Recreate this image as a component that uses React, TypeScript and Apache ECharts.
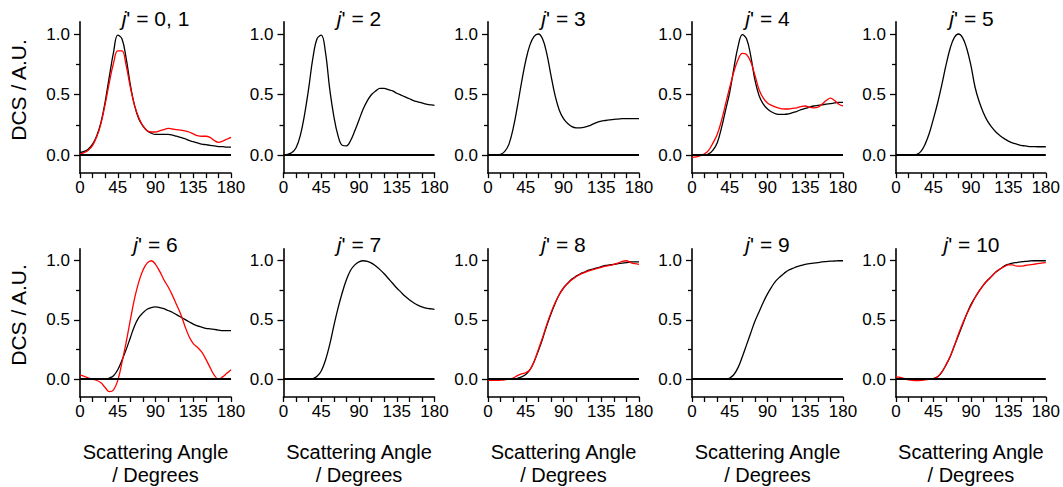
import React, { useEffect, useRef } from "react";
import * as echarts from "echarts";

const ANGLES = [0, 5, 10, 15, 20, 25, 30, 35, 40, 45, 50, 55, 60, 65, 70, 75, 80, 85, 90, 95, 100, 105, 110, 115, 120, 125, 130, 135, 140, 145, 150, 155, 160, 165, 170, 175, 180];

const TITLES = ["0, 1", "2", "3", "4", "5", "6", "7", "8", "9", "10"];
const X_TICKS = [0, 45, 90, 135, 180];
const Y_TICKS = [0, 0.5, 1.0];
const Y_MINOR = [0.25, 0.75];

// black curves (theory)
const black01 = [0.02, 0.03, 0.05, 0.09, 0.16, 0.27, 0.44, 0.65, 0.85, 0.99, 0.96, 0.8, 0.58, 0.41, 0.3, 0.24, 0.2, 0.18, 0.17, 0.17, 0.17, 0.17, 0.165, 0.155, 0.145, 0.135, 0.12, 0.11, 0.1, 0.09, 0.085, 0.08, 0.075, 0.07, 0.07, 0.065, 0.065];
const black2 = [0.0, 0.005, 0.02, 0.06, 0.16, 0.33, 0.55, 0.8, 0.96, 0.99, 0.85, 0.55, 0.32, 0.16, 0.08, 0.075, 0.12, 0.2, 0.29, 0.38, 0.45, 0.5, 0.53, 0.55, 0.55, 0.54, 0.53, 0.51, 0.495, 0.48, 0.465, 0.45, 0.44, 0.43, 0.42, 0.415, 0.41];
const black3 = [0, 0, 0, 0.005, 0.03, 0.09, 0.22, 0.4, 0.6, 0.78, 0.91, 0.98, 1.0, 0.96, 0.84, 0.66, 0.49, 0.37, 0.3, 0.26, 0.235, 0.225, 0.225, 0.23, 0.24, 0.255, 0.27, 0.28, 0.285, 0.29, 0.295, 0.297, 0.3, 0.3, 0.3, 0.3, 0.3];
const black4 = [0, 0, 0, 0, 0.01, 0.04, 0.1, 0.22, 0.37, 0.52, 0.72, 0.9, 0.995, 0.96, 0.82, 0.62, 0.49, 0.42, 0.38, 0.355, 0.34, 0.335, 0.335, 0.34, 0.35, 0.36, 0.375, 0.385, 0.395, 0.405, 0.41, 0.415, 0.42, 0.425, 0.43, 0.435, 0.435];
const black5 = [0, 0, 0, 0, 0, 0.005, 0.03, 0.09, 0.18, 0.3, 0.43, 0.58, 0.74, 0.88, 0.97, 1.0, 0.97, 0.88, 0.74, 0.56, 0.44, 0.35, 0.28, 0.23, 0.19, 0.16, 0.135, 0.115, 0.1, 0.09, 0.08, 0.075, 0.07, 0.07, 0.068, 0.068, 0.068];
const black6 = [0, 0, 0, 0, 0, 0, 0, 0.01, 0.03, 0.08, 0.16, 0.25, 0.35, 0.45, 0.52, 0.56, 0.59, 0.605, 0.61, 0.605, 0.595, 0.58, 0.565, 0.545, 0.525, 0.505, 0.485, 0.465, 0.45, 0.44, 0.43, 0.425, 0.42, 0.415, 0.41, 0.41, 0.41];
const black7 = [0, 0, 0, 0, 0, 0, 0, 0.005, 0.025, 0.07, 0.16, 0.29, 0.45, 0.6, 0.73, 0.84, 0.92, 0.965, 0.99, 1.0, 0.995, 0.98, 0.955, 0.925, 0.89, 0.85, 0.81, 0.77, 0.735, 0.7, 0.67, 0.645, 0.625, 0.61, 0.6, 0.595, 0.59];
const black8 = [0, 0, 0, 0, 0, 0, 0.002, 0.008, 0.02, 0.04, 0.08, 0.15, 0.24, 0.34, 0.45, 0.55, 0.64, 0.715, 0.77, 0.81, 0.845, 0.87, 0.89, 0.905, 0.92, 0.93, 0.94, 0.95, 0.96, 0.965, 0.97, 0.975, 0.98, 0.985, 0.99, 0.99, 0.99];
const black9 = [0, 0, 0, 0, 0, 0, 0, 0, 0, 0.01, 0.04, 0.1, 0.19, 0.29, 0.39, 0.49, 0.57, 0.65, 0.72, 0.78, 0.83, 0.865, 0.895, 0.92, 0.935, 0.95, 0.96, 0.97, 0.975, 0.98, 0.985, 0.99, 0.993, 0.996, 0.998, 1.0, 1.0];
const black10 = [0, 0, 0, 0, 0, 0, 0, 0, 0, 0.005, 0.02, 0.06, 0.12, 0.19, 0.28, 0.37, 0.46, 0.55, 0.63, 0.69, 0.745, 0.795, 0.835, 0.87, 0.905, 0.93, 0.955, 0.97, 0.98, 0.985, 0.99, 0.995, 0.998, 1.0, 1.0, 1.0, 1.0];

// red curves (experiment)
const red01 = [0.01, 0.02, 0.04, 0.08, 0.15, 0.26, 0.42, 0.6, 0.76, 0.86, 0.86, 0.74, 0.56, 0.41, 0.31, 0.24, 0.2, 0.19, 0.19, 0.2, 0.21, 0.22, 0.215, 0.21, 0.205, 0.2, 0.19, 0.175, 0.16, 0.155, 0.155, 0.145, 0.12, 0.105, 0.115, 0.13, 0.145];
const red4 = [-0.02, -0.015, -0.005, 0.01, 0.04, 0.1, 0.17, 0.28, 0.42, 0.56, 0.69, 0.79, 0.84, 0.83, 0.77, 0.66, 0.54, 0.47, 0.43, 0.41, 0.395, 0.385, 0.38, 0.38, 0.385, 0.39, 0.4, 0.405, 0.395, 0.39, 0.395, 0.42, 0.45, 0.47, 0.45, 0.42, 0.405];
const red6 = [0.035, 0.025, 0.01, 0.0, -0.01, -0.03, -0.07, -0.105, -0.09, -0.01, 0.14, 0.31, 0.5, 0.68, 0.82, 0.92, 0.98, 1.0, 0.97, 0.91, 0.84, 0.78, 0.71, 0.63, 0.55, 0.45, 0.36, 0.3, 0.27, 0.23, 0.17, 0.1, 0.035, 0.0, 0.02, 0.05, 0.08];
const red8 = [-0.01, -0.01, -0.01, -0.008, -0.005, 0.0, 0.01, 0.03, 0.045, 0.055, 0.08, 0.15, 0.25, 0.35, 0.46, 0.56, 0.645, 0.715, 0.77, 0.81, 0.84, 0.865, 0.885, 0.9, 0.915, 0.925, 0.935, 0.945, 0.955, 0.96, 0.97, 0.98, 0.995, 1.0, 0.985, 0.975, 0.97];
const red10 = [0.02, 0.015, 0.005, -0.005, -0.01, -0.012, -0.01, -0.005, 0.0, 0.005, 0.02, 0.06, 0.12, 0.19, 0.28, 0.38, 0.47, 0.55, 0.62, 0.69, 0.745, 0.795, 0.835, 0.87, 0.905, 0.93, 0.95, 0.965, 0.965, 0.955, 0.955, 0.96, 0.965, 0.97, 0.975, 0.98, 0.985];

const BLACK = [black01, black2, black3, black4, black5, black6, black7, black8, black9, black10];
const RED: (number[] | null)[] = [red01, null, null, red4, null, red6, null, red8, null, red10];

const FONT = "Liberation Sans, Arial, sans-serif";

export default function App() {
  const ref = useRef<HTMLDivElement>(null);
  useEffect(() => {
    if (!ref.current) return;
    const chart = echarts.init(ref.current, null, { renderer: "svg" });
    const lefts = [80, 283.5, 488, 692, 896];
    const tops = [21.9, 248.9];
    const heights = [151.25, 150.9];
    const width = 151;

    const grid: any[] = [];
    const xAxis: any[] = [];
    const yAxis: any[] = [];
    const series: any[] = [];
    const graphic: any[] = [];

    for (let i = 0; i < 10; i++) {
      const row = i < 5 ? 0 : 1;
      const col = i % 5;
      grid.push({ left: lefts[col], top: tops[row], width, height: heights[row] });
      xAxis.push({
        gridIndex: i,
        type: "value",
        min: 0,
        max: 180,
        interval: 45,
        axisLine: { onZero: false, lineStyle: { color: "#000", width: 1.6 } },
        axisTick: { show: true, length: 5, lineStyle: { color: "#000", width: 1.3 } },
        minorTick: { show: true, splitNumber: 3, length: 5, lineStyle: { color: "#000", width: 1.3 } },
        splitLine: { show: false },
        minorSplitLine: { show: false },
        axisLabel: {
          color: "#000",
          fontSize: 17,
          fontFamily: FONT,
          margin: 6,
          formatter: (v: number) => (X_TICKS.includes(v) ? String(v) : ""),
        },
        name: row === 1 ? "Scattering Angle\n/ Degrees" : "",
        nameLocation: "middle",
        nameGap: 43,
        nameTextStyle: { color: "#000", fontSize: 20, fontFamily: FONT, lineHeight: 23 },
      });
      yAxis.push({
        gridIndex: i,
        type: "value",
        min: -0.15,
        max: 1.1,
        axisLine: { show: true, lineStyle: { color: "#000", width: 1.6 } },
        axisTick: { show: true, length: 6, customValues: Y_TICKS, lineStyle: { color: "#000", width: 1.3 } },
        axisLabel: {
          customValues: Y_TICKS,
          color: "#000",
          fontSize: 17,
          fontFamily: FONT,
          margin: 10,
          formatter: (v: number) => v.toFixed(1),
        },
        splitLine: { show: false },
      });
      yAxis.push({
        gridIndex: i,
        type: "value",
        position: "left",
        min: -0.15,
        max: 1.1,
        axisLine: { show: false },
        axisTick: { show: true, length: 4, customValues: Y_MINOR, lineStyle: { color: "#000", width: 1.3 } },
        axisLabel: { show: false },
        splitLine: { show: false },
      });
      series.push({
        type: "line",
        xAxisIndex: i,
        yAxisIndex: 2 * i,
        data: ANGLES.map((a, k) => [a, BLACK[i][k]]),
        showSymbol: false,
        smooth: 0.4,
        lineStyle: { color: "#000", width: 1.3 },
        silent: true,
        markLine: {
          silent: true,
          symbol: "none",
          label: { show: false },
          lineStyle: { color: "#000", width: 2, type: "solid" },
          data: [{ yAxis: 0 }],
        },
        z: 2,
      });
      const red = RED[i];
      if (red) {
        series.push({
          type: "line",
          xAxisIndex: i,
          yAxisIndex: 2 * i,
          data: ANGLES.map((a, k) => [a, red[k]]),
          showSymbol: false,
          smooth: 0.4,
          lineStyle: { color: "#ff0000", width: 1.3 },
          silent: true,
          z: 3,
        });
      }
      graphic.push({
        type: "text",
        x: lefts[col] + width / 2,
        y: row === 0 ? 18 : 244,
        style: {
          text: "{i|j}{n|' = " + TITLES[i] + "}",
          fill: "#000",
          fontSize: 21,
          fontFamily: FONT,
          align: "center",
          verticalAlign: "middle",
          rich: {
            i: { fontStyle: "italic", fontSize: 21, fontFamily: FONT, fill: "#000" },
            n: { fontSize: 21, fontFamily: FONT, fill: "#000" },
          },
        },
      });
    }
    for (const cy of [90, 315]) {
      graphic.push({
        type: "text",
        x: 18.5,
        y: cy,
        rotation: Math.PI / 2,
        style: {
          text: "DCS / A.U.",
          fill: "#000",
          fontSize: 21,
          fontFamily: FONT,
          align: "center",
          verticalAlign: "middle",
        },
      });
    }

    chart.setOption({
      animation: false,
      backgroundColor: "#fff",
      grid,
      xAxis,
      yAxis,
      series,
      graphic,
    });
    return () => chart.dispose();
  }, []);
  return (
    <div
      ref={ref}
      style={{ position: "fixed", left: 0, top: 0, width: 1063, height: 487 }}
    />
  );
}
